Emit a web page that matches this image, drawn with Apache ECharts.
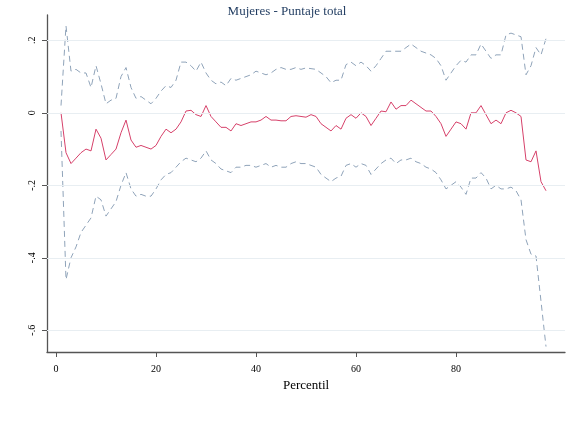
<!DOCTYPE html>
<html>
<head>
<meta charset="utf-8">
<script src="https://cdn.jsdelivr.net/npm/echarts@6/dist/echarts.min.js"></script>
<style>html,body{margin:0;padding:0;background:#fff}#chart{width:574px;height:431px}</style>
</head>
<body>
<div id="chart"></div>
<script>
// percentiles 1..98
const percentiles = Array.from({length: 98}, (_, i) => i + 1);
const estimate = [0,-0.11,-0.14,-0.125,-0.11,-0.10,-0.105,-0.045,-0.07,-0.13,-0.115,-0.10,-0.055,-0.02,-0.075,-0.095,-0.09,-0.095,-0.10,-0.09,
  -0.065,-0.045,-0.055,-0.045,-0.025,0.005,0.007,-0.005,-0.01,0.02,-0.01,-0.025,-0.04,-0.04,-0.05,-0.03,-0.035,-0.03,-0.025,-0.025,
  -0.02,-0.01,-0.02,-0.02,-0.022,-0.022,-0.01,-0.008,-0.01,-0.012,-0.005,-0.01,-0.03,-0.04,-0.05,-0.035,-0.045,-0.015,-0.005,-0.015,
  0,-0.01,-0.035,-0.015,0.005,0.003,0.03,0.01,0.02,0.02,0.035,0.025,0.015,0.005,0.005,-0.01,-0.03,-0.065,-0.045,-0.025,
  -0.03,-0.045,0,0,0.02,-0.005,-0.03,-0.02,-0.03,0,0.007,0,-0.01,-0.13,-0.135,-0.105,-0.19,-0.215];
const upper = [0.02,0.24,0.115,0.12,0.11,0.11,0.07,0.13,0.08,0.025,0.035,0.04,0.1,0.125,0.07,0.04,0.045,0.035,0.025,0.04,
  0.06,0.075,0.07,0.09,0.14,0.14,0.13,0.115,0.14,0.11,0.09,0.08,0.085,0.075,0.095,0.09,0.095,0.1,0.105,0.115,
  0.11,0.105,0.11,0.12,0.125,0.12,0.12,0.125,0.12,0.124,0.122,0.12,0.11,0.10,0.083,0.09,0.09,0.133,0.14,0.13,
  0.14,0.13,0.115,0.13,0.15,0.17,0.17,0.17,0.17,0.18,0.19,0.18,0.17,0.165,0.16,0.15,0.13,0.09,0.11,0.13,
  0.145,0.14,0.16,0.16,0.19,0.17,0.15,0.16,0.16,0.215,0.22,0.215,0.21,0.105,0.13,0.18,0.16,0.205];
const lower = [-0.05,-0.46,-0.40,-0.37,-0.33,-0.31,-0.29,-0.23,-0.24,-0.285,-0.265,-0.245,-0.20,-0.165,-0.21,-0.23,-0.225,-0.23,-0.23,-0.21,
  -0.185,-0.17,-0.165,-0.15,-0.135,-0.125,-0.13,-0.135,-0.125,-0.105,-0.13,-0.14,-0.155,-0.16,-0.165,-0.15,-0.15,-0.145,-0.145,-0.15,
  -0.145,-0.14,-0.15,-0.145,-0.15,-0.15,-0.14,-0.135,-0.14,-0.14,-0.145,-0.15,-0.17,-0.18,-0.19,-0.18,-0.175,-0.145,-0.14,-0.15,
  -0.14,-0.145,-0.17,-0.155,-0.14,-0.13,-0.125,-0.14,-0.13,-0.13,-0.125,-0.135,-0.14,-0.15,-0.155,-0.165,-0.185,-0.21,-0.2,-0.19,
  -0.205,-0.225,-0.18,-0.18,-0.165,-0.18,-0.21,-0.2,-0.21,-0.21,-0.205,-0.215,-0.24,-0.35,-0.39,-0.395,-0.52,-0.645];
const xTicks = [0, 20, 40, 60, 80];
const yTicks = [-0.6, -0.4, -0.2, 0, 0.2];

const font = 'Liberation Serif';
const pair = arr => arr.map((v, i) => [percentiles[i], v]);
const chart = echarts.init(document.getElementById('chart'));
chart.setOption({
  animation: false,
  title: {text: 'Mujeres - Puntaje total', left: 'center', top: 0,
    textStyle: {fontFamily: font, fontSize: 13, fontWeight: 'normal', color: '#1e3a5f'}},
  grid: {left: 47, right: 9, top: 15, bottom: 79},
  xAxis: {
    type: 'value', min: -1.8, max: 101.8, name: 'Percentil', nameLocation: 'middle', nameGap: 26,
    nameTextStyle: {fontFamily: font, fontSize: 13, color: '#000'},
    axisLine: {onZero: false, lineStyle: {color: '#555', width: 1.3}},
    axisTick: {customValues: xTicks, length: 5, lineStyle: {color: '#555'}},
    axisLabel: {customValues: xTicks, fontFamily: font, fontSize: 10, color: '#000', margin: 12},
    splitLine: {show: false}
  },
  yAxis: {
    type: 'value', min: -0.66, max: 0.27,
    axisLine: {show: true, onZero: false, lineStyle: {color: '#555', width: 1.3}},
    axisTick: {show: true, customValues: yTicks, length: 5, lineStyle: {color: '#555'}},
    axisLabel: {customValues: yTicks, fontFamily: font, fontSize: 10, color: '#000', rotate: 90, margin: 10,
      formatter: v => v === 0 ? '0' : String(v).replace('0.', '.')},
    splitLine: {show: false}
  },
  series: [
    {type: 'line', data: pair(upper), symbol: 'none', silent: true,
      lineStyle: {color: '#8fa3b9', width: 1, type: [6, 4]},
      markLine: {silent: true, symbol: 'none', label: {show: false},
        lineStyle: {color: '#e8eef2', width: 1, type: 'solid'},
        data: yTicks.map(v => ({yAxis: v}))}},
    {type: 'line', data: pair(lower), symbol: 'none', lineStyle: {color: '#8fa3b9', width: 1, type: [6, 4]}},
    {type: 'line', data: pair(estimate), symbol: 'none', lineStyle: {color: '#d6416a', width: 1}}
  ]
});
</script>
</body>
</html>
